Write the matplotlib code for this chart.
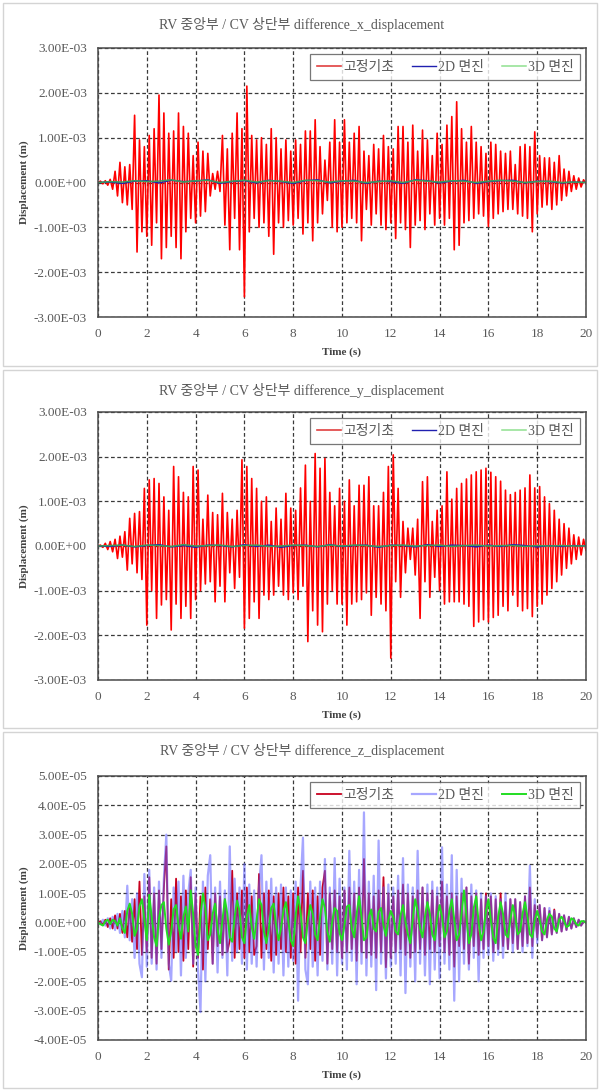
import numpy as np
import matplotlib
matplotlib.use("Agg")
import matplotlib.pyplot as plt
from matplotlib.patches import Rectangle
from matplotlib.ticker import FuncFormatter, MultipleLocator

plt.rcParams["font.family"] = ["Liberation Serif", "Noto Sans CJK KR", "DejaVu Sans"]

# time step of the stored samples (s)
DT = 0.1

# difference_x, 고정기초 (x 1e-4 m)
x_fixed = [
    0.0, 0.3, -0.3, 0.4, -0.6, 0.7, -1.5, 2.5, -3.0, 4.5,
    -4.5, 3.5, -5.0, 4.0, -6.0, 15.0, -15.5, 9.5, -11.0, 8.0,
    -12.0, 10.5, -14.0, 12.0, -9.0, 19.5, -17.0, 15.5, -14.5, 11.0,
    -12.0, 11.5, -14.5, 15.5, -17.0, 12.5, -11.0, 11.0, -8.0, 6.0,
    -9.0, 9.0, -7.5, 7.0, -6.5, 6.5, -3.0, 2.0, -1.5, 2.5,
    -2.0, 10.5, -9.5, 7.5, -15.0, 11.0, -8.0, 15.5, -15.0, 12.0,
    -25.5, 21.5, -11.0, 10.5, -8.0, 9.5, -10.0, 10.0, -9.0, 8.5,
    -12.0, 12.0, -16.0, 10.0, -9.0, 7.5, -10.0, 9.5, -8.5, 7.0,
    -9.5, 9.5, -8.0, 8.5, -11.5, 11.5, -9.0, 11.5, -13.0, 14.0,
    -9.0, 8.0, -7.0, 5.0, -4.0, 9.0, -10.0, 14.0, -11.0, 9.0,
    -10.0, 14.0, -9.0, 9.0, -8.0, 11.0, -9.0, 12.5, -13.0, 7.0,
    -6.0, 6.0, -9.5, 8.5, -7.0, 7.5, -9.5, 10.5, -10.5, 8.0,
    -9.0, 7.5, -12.5, 12.5, -9.0, 12.5, -10.5, 9.0, -14.5, 12.8,
    -9.5, 7.0, -8.5, 11.7, -10.5, 9.5, -7.0, 6.0, -9.5, 11.0,
    -8.0, 8.5, -9.5, 12.8, -8.0, 14.7, -15.0, 18.0, -14.0, 12.0,
    -9.0, 9.0, -8.5, 12.5, -8.0, 9.0, -7.0, 8.0, -7.5, 6.5,
    -9.8, 9.0, -8.0, 8.5, -7.0, 7.0, -6.5, 6.5, -6.0, 7.0,
    -6.0, 4.0, -7.0, 8.0, -7.5, 8.5, -8.0, 8.0, -11.0, 11.3,
    -7.0, 6.0, -5.5, 5.5, -5.0, 5.5, -6.0, 4.5, -5.0, 6.0,
    -4.0, 3.0, -3.0, 2.5, -2.0, 1.5, -1.5, 1.0, -1.0, 0.6,
    -0.3,
]

# difference_y, 고정기초 (x 1e-4 m)
y_fixed = [
    0.0, 0.2, -0.3, 0.6, -0.8, 1.0, -1.3, 1.5, -2.8, 2.2,
    -2.5, 3.2, -5.4, 6.2, -4.0, 7.3, -6.0, 7.7, -7.5, 12.9,
    -17.7, 14.8, -10.0, 15.1, -16.2, 14.0, -13.2, 11.0, -12.0, 8.0,
    -18.8, 17.8, -13.0, 15.5, -16.2, 12.0, -13.5, 11.0, -16.2, 17.8,
    -12.0, 17.0, -10.0, 6.0, -8.5, 11.4, -8.0, 7.5, -12.5, 7.0,
    -9.0, 11.8, -12.5, 7.5, -6.0, 6.0, -9.5, 8.0, -7.0, 19.3,
    -18.4, 17.8, -16.2, 15.1, -12.5, 12.9, -16.2, 10.0, -11.0, 11.0,
    -12.0, 5.5, -11.0, 8.5, -9.0, 6.0, -11.0, 11.8, -12.0, 8.5,
    -10.5, 8.0, -12.0, 13.0, -9.0, 18.1, -21.4, 10.0, -14.5, 20.7,
    -17.7, 17.4, -19.2, 19.6, -13.0, 12.0, -10.0, 9.0, -13.0, 12.9,
    -13.0, 10.0, -17.7, 14.8, -13.0, 9.0, -12.5, 13.6, -12.0, 13.6,
    -10.5, 15.5, -15.5, 9.0, -11.5, 9.0, -13.0, 12.0, -14.5, 17.8,
    -25.1, 20.4, -8.0, 12.9, -11.5, 5.5, -6.0, 4.0, -3.0, 4.0,
    -6.5, 6.0, -16.2, 14.4, -8.0, 15.5, -11.5, 5.5, -7.0, 8.0,
    -10.0, 9.0, -13.0, 16.6, -12.5, 10.5, -12.5, 12.9, -12.5, 14.0,
    -13.0, 15.0, -13.5, 15.9, -18.0, 16.6, -17.0, 17.0, -16.5, 17.4,
    -17.0, 16.5, -16.0, 15.5, -15.5, 14.5, -13.5, 12.5, -14.5, 11.5,
    -11.0, 12.0, -13.5, 12.5, -14.5, 13.0, -14.0, 15.9, -15.8, 13.0,
    -13.5, 13.3, -13.0, 11.0, -11.0, 9.5, -9.5, 8.0, -8.0, 6.0,
    -6.5, 5.0, -5.0, 4.0, -4.0, 2.5, -3.0, 2.0, -2.0, 1.5,
    -1.0,
]

# 2D / 3D 면진 in the x and y panels stay close to zero (x 1e-4 m, every 0.5 s)
DT_SMALL = 0.5
x_2d = [0.0, 0.1, -0.2, 0.3, 0.4, -0.1, 0.5, 0.2, 0.3, 0.6, -0.2, 0.2, 0.4, -0.1, 0.5, 0.2,
        -0.2, 0.4, 0.6, -0.1, 0.3, 0.5, -0.2, 0.3, 0.2, -0.2, 0.6, 0.4, -0.1, 0.3, 0.5,
        -0.2, 0.2, 0.4, 0.5, -0.1, 0.3, 0.2, -0.1, 0.1, 0.0]
x_3d = [0.0, 0.2, 0.1, 0.4, 0.2, 0.3, 0.6, 0.1, 0.4, 0.5, 0.0, 0.3, 0.5, 0.1, 0.4, 0.3,
        0.0, 0.5, 0.4, 0.1, 0.4, 0.3, 0.0, 0.2, 0.4, 0.0, 0.5, 0.3, 0.1, 0.4, 0.3,
        0.0, 0.3, 0.5, 0.3, 0.0, 0.2, 0.3, 0.0, 0.1, 0.0]
y_2d = [0.0, -0.1, 0.2, -0.2, 0.1, 0.3, -0.2, 0.1, -0.3, 0.2, 0.1, -0.2, 0.3, -0.1, 0.2, -0.3,
        0.1, 0.2, -0.2, 0.3, -0.1, 0.1, 0.2, -0.3, 0.2, 0.1, -0.2, 0.3, -0.1, 0.2, 0.1,
        -0.2, 0.2, -0.1, 0.3, 0.1, -0.2, 0.1, -0.1, 0.1, 0.0]
y_3d = [0.0, 0.1, 0.2, -0.1, 0.2, 0.1, -0.1, 0.3, 0.0, 0.1, 0.2, -0.1, 0.1, 0.2, -0.1, 0.0,
        0.2, 0.1, -0.1, 0.2, 0.0, 0.2, 0.1, -0.1, 0.1, 0.2, 0.0, 0.1, 0.2, -0.1, 0.1,
        0.2, 0.0, 0.1, 0.1, -0.1, 0.1, 0.0, 0.1, 0.0, 0.0]

# difference_z (x 1e-6 m)
z_fixed = [
    0.0, 0.5, -0.8, 1.0, -1.5, 1.5, -2.0, 2.5, -2.0, 3.0,
    -3.5, 4.0, -5.0, 6.0, -6.5, 8.0, -9.0, 14.0, -11.0, 9.0,
    -10.0, 15.5, -12.0, 10.0, -14.0, 11.0, -9.0, 12.0, 26.0, -16.0,
    8.0, -12.0, 15.0, -10.0, 9.0, -13.0, 11.0, -9.0, 15.5, -15.0,
    10.0, -12.0, 9.0, -16.0, 12.0, -9.0, 8.0, -14.0, 10.0, -8.0,
    9.0, -11.0, 8.0, -10.0, -6.0, 17.7, -12.0, 10.0, -9.0, 11.0,
    -12.0, 12.0, -10.0, 9.0, -11.0, -8.0, 16.6, -12.0, 10.0, -9.0,
    11.0, -13.0, 9.0, -11.0, 10.0, -9.0, 12.0, -10.0, 9.0, -12.0,
    10.0, -14.0, 12.0, -10.0, 17.7, -12.0, 10.0, -9.0, 11.0, -13.0,
    9.0, -11.0, 12.0, 17.7, -14.0, 10.0, -9.0, 11.0, -10.0, 9.0,
    -12.0, 11.0, -10.0, 12.0, -9.0, 10.0, -13.0, 12.0, -10.0, 21.7,
    -12.0, 10.0, -11.0, 9.0, -12.0, 11.0, -10.0, 15.5, -15.2, 10.0,
    -12.0, 9.0, -10.0, 11.0, -9.0, 13.0, -11.0, 10.0, -12.0, 9.0,
    -10.0, 11.0, -9.0, 12.0, -11.0, 10.0, -9.0, 11.0, -10.0, 9.0,
    -8.0, 14.0, -10.0, 9.0, -11.0, 10.0, -15.0, 9.0, -8.0, 10.0,
    -9.0, 12.0, -14.0, 9.0, -8.0, 10.0, -11.0, 8.0, -9.0, 10.0,
    -8.0, 9.0, -10.0, 8.0, -9.0, 10.0, -8.0, 7.0, -9.0, 8.0,
    -7.0, 8.0, -9.0, 7.0, -8.0, 9.0, -7.0, 12.0, -8.0, 6.0,
    -5.0, 6.0, -6.0, 5.0, -5.0, 4.0, -4.0, 4.5, -3.5, 3.0,
    -3.0, 2.5, -2.5, 2.0, -2.0, 1.5, -1.5, 1.0, -1.0, 0.5,
    0.0,
]

z_2d = [
    0.0, -0.5, 1.0, -1.0, 1.5, -2.0, 2.0, -2.5, 3.0, -3.5,
    4.0, -5.0, 12.6, -6.0, 8.0, -12.0, 10.0, -14.0, -18.6, 16.6,
    -15.0, 18.0, -14.0, 12.0, -16.0, 14.0, -12.0, 15.0, 30.0, -14.0,
    -19.8, 12.0, -10.0, 14.0, -18.0, 16.0, -12.0, 10.0, 18.0, -14.0,
    12.0, -16.0, -30.5, 14.0, -20.0, 16.0, 23.0, -14.0, 12.0, -17.0,
    14.0, -12.0, 11.0, -18.0, 26.0, -13.0, 15.0, -10.0, 12.0, -14.0,
    20.0, -16.0, 13.0, -14.0, 11.0, -15.0, 12.0, 23.0, -16.0, 14.0,
    -12.0, 15.0, -17.0, 12.0, -14.0, 13.0, -18.0, 12.0, -15.0, 11.0,
    -13.0, 14.0, -26.6, 12.0, 29.0, -16.0, -21.0, 14.0, -15.0, 12.0,
    -18.0, 14.0, -13.0, 21.7, -16.0, 12.0, -14.0, 22.0, -18.0, 15.0,
    -14.0, 12.0, -16.0, 24.5, -13.0, 14.0, -21.0, 18.0, -14.0, 37.6,
    -18.0, 14.0, -15.0, 16.0, -23.0, 28.0, -14.0, 12.0, -19.0, 13.0,
    -15.0, 12.0, -14.0, 16.0, -18.0, 22.0, -24.0, 13.0, -15.0, 12.0,
    -20.0, 24.5, -14.0, 12.0, -18.0, 13.0, -21.0, 14.0, -16.0, 12.0,
    -19.0, 25.7, -14.0, 13.0, -16.0, 23.0, -26.6, 18.0, -20.0, 15.0,
    -14.0, 12.0, -16.0, 13.0, -12.0, 11.0, -20.0, 10.0, -12.0, 9.0,
    -11.0, 10.0, -13.0, 9.0, -11.0, 8.0, -12.0, 10.0, -9.0, 8.0,
    -10.0, 8.0, -9.0, 7.0, -10.0, 9.0, -8.0, 19.4, -12.0, 8.0,
    -7.0, 6.0, -6.0, 5.0, -5.0, 5.0, -4.0, 4.0, -3.5, 3.0,
    -3.0, 2.5, -2.5, 2.0, -2.0, 1.5, -1.5, 1.0, -1.0, 0.5,
    0.0,
]

z_3d = [
    0.0, -0.5, -1.0, 0.5, 1.0, -0.5, 1.0, 0.5, -1.0, 1.5,
    -2.0, -3.5, 4.0, 6.5, 3.0, -4.5, -2.0, 5.5, 8.0, 1.0,
    -6.0, 9.5, 2.0, -5.0, -8.0, 1.5, 6.0, 7.0, -2.0, -7.5,
    -3.0, 4.5, 6.0, -1.0, -5.5, 2.0, 5.5, -3.0, 11.0, 3.0,
    -8.0, -11.0, 2.0, 10.0, 5.0, -6.0, -4.0, 3.0, 6.5, -2.0,
    -7.0, 1.0, 8.0, 3.0, -5.0, -6.5, 2.0, 7.5, 4.0, -5.0,
    -7.0, 2.0, 6.0, -1.5, -5.5, 1.0, 8.0, 6.0, -3.0, -7.0,
    -2.0, 5.0, 6.5, -1.0, -6.0, -2.0, 4.0, 7.0, 0.5, -6.0,
    -8.0, 2.5, 9.0, 4.0, -5.0, -7.0, 1.0, 6.0, 3.0, -4.0,
    -6.0, 1.5, 8.0, 5.0, -3.0, -6.5, 0.5, 5.0, 4.0, -3.5,
    -6.0, -1.0, 5.5, 6.0, -2.0, -5.0, 3.0, 9.0, 2.0, -6.0,
    -5.0, 2.0, 4.5, -2.0, -3.0, 3.5, 5.0, -1.0, -4.5, 1.0,
    4.0, 2.0, -3.0, -4.0, 2.5, 6.0, 0.5, -4.0, -7.0, 1.0,
    8.0, 4.0, -2.0, -5.0, 2.0, 7.0, 3.0, -4.0, -6.0, 1.5,
    6.0, 2.0, -5.0, -3.0, 4.0, 8.0, 1.0, -6.0, -4.0, 3.0,
    11.0, 2.0, -7.0, -4.0, 5.0, 9.0, 0.0, -6.0, -3.0, 4.0,
    8.0, 1.0, -5.0, -7.0, 2.0, 7.0, 3.0, -4.0, -5.0, 1.0,
    6.0, 2.0, -4.0, -3.0, 3.0, 7.0, 2.0, -4.0, -5.0, 1.0,
    4.0, 1.0, -3.0, -4.0, 1.0, 3.0, 2.0, -2.0, -3.0, 1.0,
    2.0, 0.5, -1.5, -1.0, 1.5, 1.0, -0.5, -1.0, 0.5, 0.5,
    0.0,
]

LABELS = ["고정기초", "2D 면진", "3D 면진"]
TITLE = "RV 중앙부 / CV 상단부 difference_{}_displacement"

TXT = "#595959"
GRID = "#3a3a3a"
W, H = 600, 1091


def t_axis(n, dt):
    return np.arange(n) * dt


def fig_rect(x0, y0, x1, y1):
    # pixel box (top-left origin) -> figure fraction [l, b, w, h]
    return [x0 / W, 1 - y1 / H, (x1 - x0) / W, (y1 - y0) / H]


def style(ax, ylim, ystep, title, title_y):
    ax.set_xlim(0, 20)
    ax.set_ylim(*ylim)
    ax.xaxis.set_major_locator(MultipleLocator(2))
    ax.yaxis.set_major_locator(MultipleLocator(ystep))
    ax.yaxis.set_major_formatter(FuncFormatter(lambda v, p: f"{v:.2E}"))
    ax.tick_params(length=0, labelsize=9.5, labelcolor=TXT, pad=8)
    ax.grid(True, color=GRID, linestyle=(0, (3, 2)), linewidth=0.9)
    ax.set_axisbelow(True)
    for s in ax.spines.values():
        s.set_color("#4a4a4a")
        s.set_linewidth(1.1)
    ax.set_xlabel("Time (s)", fontsize=8, fontweight="bold", color="#404040", labelpad=5)
    ax.set_ylabel("Displacement (m)", fontsize=8, fontweight="bold", color="#404040")
    ax.yaxis.set_label_coords(-0.142, 0.5)
    # chart title is centred on the whole chart area, not on the plot box
    fig.text(0.503, 1 - title_y / H, title, fontsize=10, color=TXT,
             ha="center", va="center")


def add_legend(ax):
    leg = ax.legend(loc="upper right", ncol=3, frameon=True, fancybox=False,
                    handlelength=1.7, handletextpad=0.15, columnspacing=1.3,
                    borderaxespad=0.4, borderpad=0.5,
                    prop={"size": 10})
    leg.get_frame().set_edgecolor("#555555")
    leg.get_frame().set_linewidth(0.9)
    for t in leg.get_texts():
        t.set_color(TXT)
    return leg


fig = plt.figure(figsize=(W / 100, H / 100), dpi=100)

# chart-area borders
for y0, y1 in [(3, 366), (370, 728), (732, 1088)]:
    fig.patches.append(Rectangle((3 / W, 1 - y1 / H), 594 / W, (y1 - y0) / H,
                                 transform=fig.transFigure, fill=False,
                                 edgecolor="#d4d4d4", linewidth=1.0))

t = t_axis(len(x_fixed), DT)
ts = t_axis(len(x_2d), DT_SMALL)

# x and y panels
for box, big, small2, small3, comp, ty in [
    ((98, 48, 586, 317), x_fixed, x_2d, x_3d, "x", 24),
    ((98, 412, 586, 680), y_fixed, y_2d, y_3d, "y", 390),
]:
    ax = fig.add_axes(fig_rect(*box))
    ax.plot(t, np.array(big) * 1e-4, color="#ff0000", lw=1.2, label=LABELS[0])
    ax.plot(ts, np.array(small2) * 1e-4, color="#2020b0", lw=1.0, label=LABELS[1])
    ax.plot(ts, np.array(small3) * 1e-4, color="#3c9c5c", lw=1.1, label=LABELS[2])
    style(ax, (-3e-3, 3e-3), 1e-3, TITLE.format(comp), ty)
    leg = add_legend(ax)
    leg.get_lines()[0].set_color("#e04040")
    leg.get_lines()[2].set_color("#90e090")

# z panel
ax = fig.add_axes(fig_rect(98, 776, 586, 1040))
tz = t_axis(len(z_fixed), DT)
ax.plot(tz, np.array(z_fixed) * 1e-6, color="#c8001e", lw=1.3, label=LABELS[0])
ax.plot(tz, np.array(z_2d) * 1e-6, color="#6060ff", lw=1.6, alpha=0.55, label=LABELS[1])
ax.plot(tz, np.array(z_3d) * 1e-6, color="#22dd22", lw=1.4, label=LABELS[2])
style(ax, (-4e-5, 5e-5), 1e-5, TITLE.format("z"), 750)
add_legend(ax)

fig.savefig("out.png", dpi=100, facecolor="white")
